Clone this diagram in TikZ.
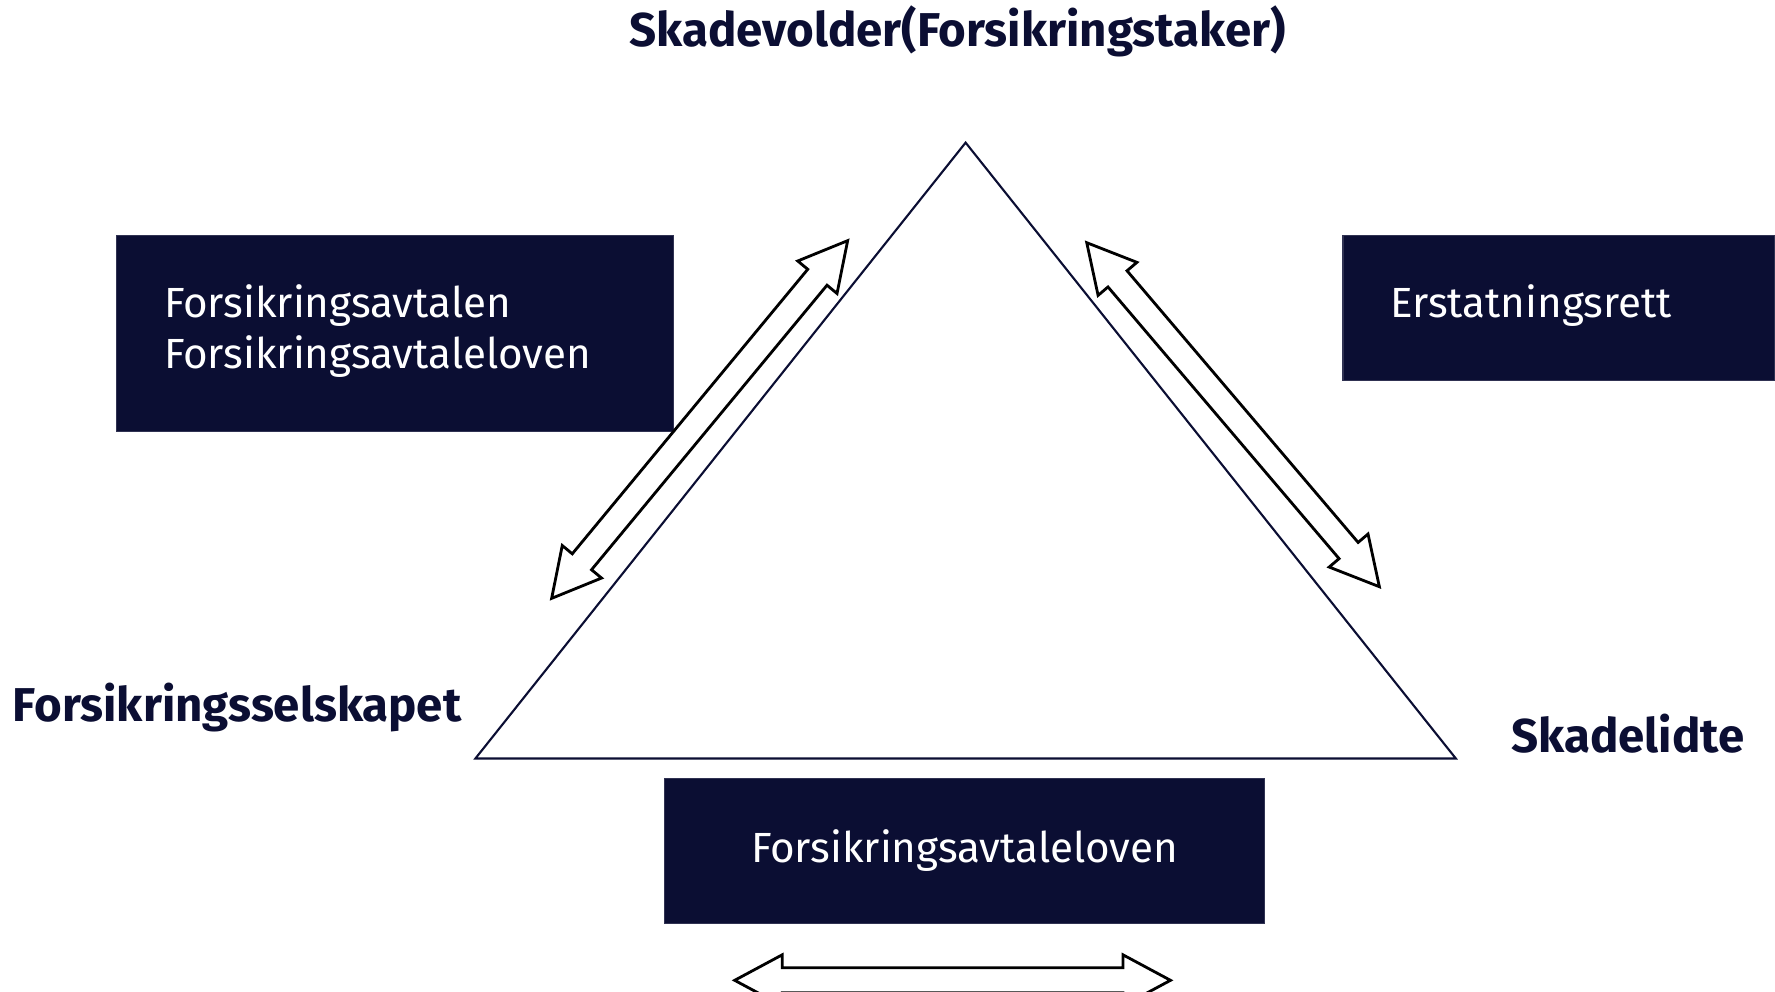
\documentclass[tikz,border=0pt]{standalone}
\usepackage{fontspec}
\setmainfont{Fira Sans}
\usetikzlibrary{calc,positioning}
\definecolor{navy}{RGB}{11,14,51}

% hollow two-headed arrow between two tips
\newcommand{\twoway}[2]{%
  \draw[twoway] (#1)
    -- ($(#1)!0.475cm!(#2)!0.255cm!90:(#2)$)
    -- ($(#1)!0.475cm!(#2)!0.125cm!90:(#2)$)
    -- ($(#2)!0.475cm!(#1)!0.125cm!-90:(#1)$)
    -- ($(#2)!0.475cm!(#1)!0.255cm!-90:(#1)$)
    -- (#2)
    -- ($(#2)!0.475cm!(#1)!0.255cm!90:(#1)$)
    -- ($(#2)!0.475cm!(#1)!0.125cm!90:(#1)$)
    -- ($(#1)!0.475cm!(#2)!0.125cm!-90:(#2)$)
    -- ($(#1)!0.475cm!(#2)!0.255cm!-90:(#2)$)
    -- cycle;}

\begin{document}
\begin{tikzpicture}[x=0.01132cm, y=0.01132cm,
    party/.style={font=\bfseries\fontsize{13.5}{16}\selectfont, text=navy, inner sep=0pt},
    lawbox/.style={fill=navy, draw=navy!85!white, inner sep=0pt},
    lawtext/.style={text=white, font=\fontsize{12}{14.6}\selectfont, align=left, inner sep=0pt},
    twoway/.style={draw=black, line width=0.8pt, fill=white, line join=miter}]
    \useasboundingbox (0,0) rectangle (1568,876);
    \clip (0,0) rectangle (1568,876);

    % the three parties
    \coordinate (top) at (853,750);
    \coordinate (left) at (420,206);
    \coordinate (right) at (1286,206);
    \draw[navy, line width=0.6pt, line join=miter] (top) -- (left) -- (right) -- cycle;

    \node[party] (taker) at (846,848) {Skadevolder(Forsikringstaker)};
    \node[party] (company) at (209.5,251) {Forsikringsselskapet};
    \node[party] (victim) at (1438,228) {Skadelidte};

    % the laws between them
    \node[lawbox, minimum width=5.57cm, minimum height=1.96cm] (contract) at (349,581.5) {};
    \node[lawtext, anchor=west] (contracttext) at ([xshift=0.475cm, yshift=0.025cm]contract.west)
        {Forsikringsavtalen\\Forsikringsavtaleloven};
    \node[lawbox, minimum width=4.32cm, minimum height=1.45cm] (tort) at (1377,604) {};
    \node[lawtext, anchor=west] (torttext) at ([xshift=0.475cm, yshift=0.025cm]tort.west) {Erstatningsrett};
    \node[lawbox, minimum width=6cm, minimum height=1.45cm] (act) at (852,124) {};
    \node[lawtext] (acttext) at ([yshift=0.005cm]act.center) {Forsikringsavtaleloven};

    % arrows
    \coordinate (la) at (748.8,663.4);
    \coordinate (lb) at (487.3,347.4);
    \coordinate (ra) at (960,661.6);
    \coordinate (rb) at (1218.5,357.7);
    \coordinate (ba) at (649,10);
    \coordinate (bb) at (1034,10);
    \twoway{la}{lb}
    \twoway{ra}{rb}
    \twoway{ba}{bb}
\end{tikzpicture}
\end{document}
